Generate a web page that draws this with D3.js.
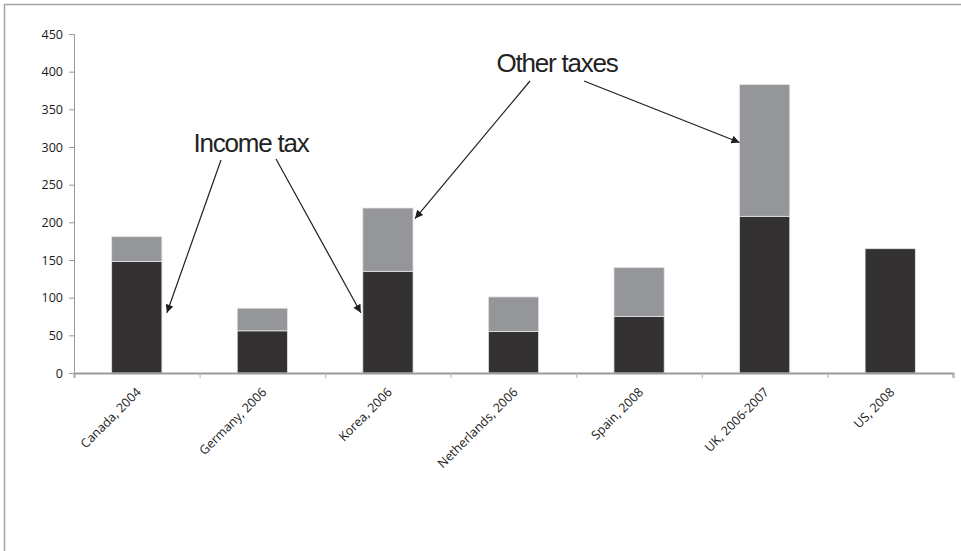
<!DOCTYPE html>
<html>
<head>
<meta charset="utf-8">
<script src="https://cdn.jsdelivr.net/npm/d3@7"></script>
<style>
  html, body { margin: 0; padding: 0; background: #fff; }
  svg { display: block; }
  .tick text { font-family: 'Open Sans', sans-serif; font-size: 12.5px; fill: #1a1a1a; }
  .note { font-family: 'Liberation Sans', Arial, sans-serif; font-size: 26px; letter-spacing: -1.2px; fill: #222; }
</style>
</head>
<body>
<div id="chart"></div>
<script>
const categories = ['Canada, 2004', 'Germany, 2006', 'Korea, 2006', 'Netherlands, 2006', 'Spain, 2008', 'UK, 2006-2007', 'US, 2008']
const incomeTax = [148, 56, 135, 55, 75, 208, 165]
const otherTaxes = [33, 30, 84, 46, 65, 175, 0]
const yTicks = [0, 50, 100, 150, 200, 250, 300, 350, 400, 450]

const width = 961
const height = 551
const margin = { top: 34, right: 8, bottom: 178, left: 74 }

const svg = d3.select('#chart')
  .append('svg')
  .attr('width', width)
  .attr('height', height)

// outer frame (open to the right and bottom like the crop)
svg.append('rect')
  .attr('x', 4.5)
  .attr('y', 4.5)
  .attr('width', width + 20)
  .attr('height', height + 20)
  .attr('fill', 'none')
  .attr('stroke', '#a3a3a3')
  .attr('stroke-width', 1.5)

const defs = svg.append('defs')
defs.append('marker')
  .attr('id', 'head')
  .attr('viewBox', '0 0 10 10')
  .attr('refX', 10)
  .attr('refY', 5)
  .attr('markerWidth', 10)
  .attr('markerHeight', 8)
  .attr('markerUnits', 'userSpaceOnUse')
  .attr('orient', 'auto')
  .append('path')
  .attr('d', 'M0,0L10,5L0,10Z')
  .attr('fill', '#1e1e1e')

const x = d3.scaleBand()
  .domain(categories)
  .range([margin.left, width - margin.right])
  .paddingInner(0.6)
  .paddingOuter(0.3)

// boundaries between categories for the tick marks
const xEdges = d3.scaleLinear()
  .domain([0, categories.length])
  .range([margin.left, width - margin.right])

const y = d3.scaleLinear()
  .domain([0, 450])
  .range([height - margin.bottom, margin.top])

const stacked = d3.stack().keys(['income', 'other'])(
  categories.map((c, i) => ({ name: c, income: incomeTax[i], other: otherTaxes[i] }))
)
const fills = { income: '#333132', other: '#959699' }

svg.append('g')
  .selectAll('g')
  .data(stacked)
  .join('g')
  .attr('fill', d => fills[d.key])
  .selectAll('rect')
  .data(d => d.filter(s => s[1] > s[0]))
  .join('rect')
  .attr('x', d => x(d.data.name))
  .attr('y', d => y(d[1]))
  .attr('width', x.bandwidth())
  .attr('height', d => y(d[0]) - y(d[1]))
  .attr('stroke', '#e4e4e4')
  .attr('stroke-width', 0.8)

const axisY = d3.axisLeft(y).tickValues(yTicks).tickSize(5).tickPadding(6)
svg.append('g')
  .attr('class', 'axisY')
  .attr('transform', `translate(${margin.left}, 0)`)
  .call(axisY)
  .call(g => g.selectAll('line, path').attr('stroke', '#9a9a9a'))

const axisX = d3.axisBottom(xEdges).ticks(categories.length).tickSize(5).tickFormat('')
svg.append('g')
  .attr('class', 'axisX')
  .attr('transform', `translate(0, ${height - margin.bottom})`)
  .call(axisX)
  .call(g => g.select('.domain').attr('stroke', '#9a9a9a').attr('stroke-width', 2))
  .call(g => g.selectAll('.tick line').attr('stroke', '#b0b0b0'))

svg.append('g')
  .attr('class', 'tick')
  .selectAll('text')
  .data(categories)
  .join('text')
  .attr('text-anchor', 'end')
  .attr('transform', d => `translate(${x(d) + x.bandwidth() / 2 + 5}, ${height - margin.bottom + 20}) rotate(-45)`)
  .text(d => d)

// annotations
svg.append('text').attr('class', 'note')
  .attr('x', 251).attr('y', 152)
  .attr('text-anchor', 'middle')
  .text('Income tax')
svg.append('text').attr('class', 'note')
  .attr('x', 557).attr('y', 72)
  .attr('text-anchor', 'middle')
  .text('Other taxes')

const arrows = [
  [[221, 160], [x(categories[0]) + x.bandwidth() + 5, y(80)]],
  [[276, 159], [x(categories[2]) - 2, y(80)]],
  [[530, 81], [x(categories[2]) + x.bandwidth() + 2, y(205)]],
  [[584, 81], [x(categories[5]), y(306)]]
]
svg.append('g')
  .selectAll('line')
  .data(arrows)
  .join('line')
  .attr('x1', d => d[0][0])
  .attr('y1', d => d[0][1])
  .attr('x2', d => d[1][0])
  .attr('y2', d => d[1][1])
  .attr('stroke', '#1e1e1e')
  .attr('stroke-width', 1.2)
  .attr('marker-end', 'url(#head)')
</script>
</body>
</html>
